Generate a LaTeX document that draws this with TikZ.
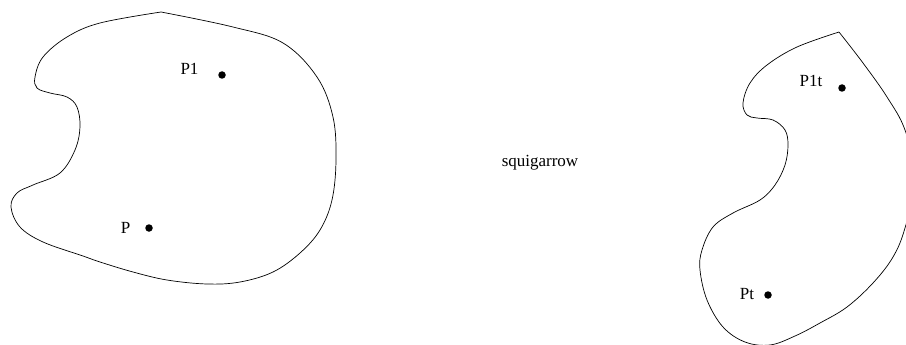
\documentclass[tikz,border=0pt]{standalone}
\usepackage{fontspec}
\setmainfont{Liberation Serif}
\begin{document}
\begin{tikzpicture}[x=1pt,y=-1pt,
  region/.style={draw=black,line width=0.7pt},
  dotpt/.style={circle,fill=black,inner sep=0pt,minimum size=7.5pt},
  lbl/.style={font=\fontsize{17}{19}\selectfont,inner sep=0pt}]
\useasboundingbox (0,0) rectangle (906,345);
\clip (0,0) rectangle (906,345);
% left region
\draw[region] plot[smooth,tension=0.6] coordinates {
 (161,12) (233,27) (283,43) (317,77) (333,117) (336,160) (332,200) (320,230)
 (300,253) (273,272) (240,282) (207,284) (167,280) (133,272) (100,262) (83,256)
 (43,242) (20,227) (11,207) (17,193) (33,185) (60,173) (75,150) (80,127) (77,107)
 (67,97) (50,93) (37,88) (35,77) (43,57) (67,37) (100,23) (161,12)};
% right region
\draw[region] plot[smooth,tension=0.6] coordinates {
 (839,32) (863,63) (887,97) (905,130) (916,178) (905,228) (893,257) (873,283)
 (847,307) (820,323) (795,336) (770,345) (745,342) (723,327) (707,300) (700,270)
 (702,250) (713,227) (733,213) (760,200) (775,185) (785,165) (788,145) (785,130)
 (773,120) (757,118) (747,115) (743,103) (750,83) (767,65) (797,47) (839,32)};
% points
\node[dotpt] (p1) at (222,75) {};
\node[lbl] (p1l) at (189.5,69) {P1};
\node[dotpt] (p) at (149,228) {};
\node[lbl] (pl) at (125.5,228) {P};
\node[dotpt] (p1t) at (842,88) {};
\node[lbl] (p1tl) at (811,81) {P1t};
\node[dotpt] (pt) at (768,295) {};
\node[lbl] (ptl) at (747,294) {Pt};
\node[lbl] (sq) at (540,163) {squigarrow};
\end{tikzpicture}
\end{document}
